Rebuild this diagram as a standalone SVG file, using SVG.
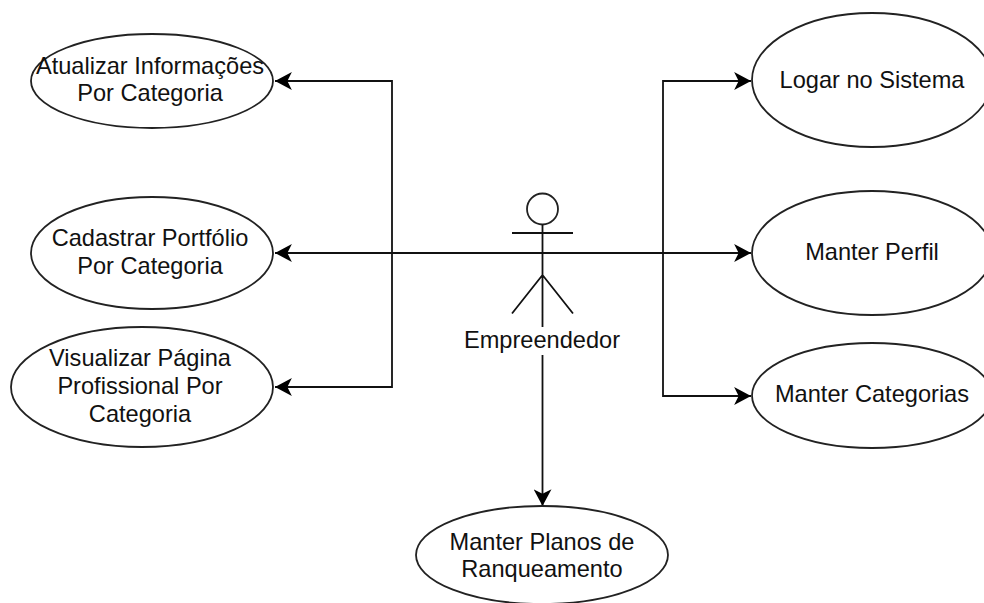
<svg xmlns="http://www.w3.org/2000/svg" width="984" height="603" viewBox="0 0 984 603">
<style>
.n{fill:#fff;stroke:#222;stroke-width:1.8}
.l{fill:none;stroke:#111;stroke-width:1.8}
text{font-family:"Liberation Sans",Arial,sans-serif;font-size:23.6px;fill:#111;text-anchor:middle}
</style>
<defs><marker id="a" markerUnits="userSpaceOnUse" markerWidth="18" markerHeight="18" refX="15" refY="8" orient="auto-start-reverse" viewBox="0 0 16 16"><path d="M0 0L15 8L0 16L4 8Z" fill="#000"/></marker></defs>
<rect width="984" height="603" fill="#fff"/>
<g id="connectors">
<path class="l" d="M392 253V81H275" marker-end="url(#a)"/>
<path class="l" d="M392 253V387H275" marker-end="url(#a)"/>
<path class="l" d="M275 253H751" marker-start="url(#a)" marker-end="url(#a)"/>
<path class="l" d="M663 253V81H751" marker-end="url(#a)"/>
<path class="l" d="M663 253V396H751" marker-end="url(#a)"/>
<path class="l" d="M542.500 355L542.500 506" marker-end="url(#a)"/>
</g>
<g id="atualizar"><ellipse class="n" cx="152" cy="81" rx="121" ry="47"/><text x="150" y="74">Atualizar Informações</text><text x="150" y="101">Por Categoria</text></g>
<g id="cadastrar"><ellipse class="n" cx="152" cy="253" rx="121" ry="56"/><text x="150" y="246">Cadastrar Portfólio</text><text x="150" y="274">Por Categoria</text></g>
<g id="visualizar"><ellipse class="n" cx="142" cy="387" rx="131" ry="60"/><text x="140" y="366">Visualizar Página</text><text x="140" y="394">Profissional Por</text><text x="140" y="422">Categoria</text></g>
<g id="logar"><ellipse class="n" cx="872" cy="80" rx="120" ry="67"/><text x="872" y="88">Logar no Sistema</text></g>
<g id="perfil"><ellipse class="n" cx="872" cy="253" rx="120" ry="62"/><text x="872" y="260">Manter Perfil</text></g>
<g id="categorias"><ellipse class="n" cx="872" cy="395.500" rx="120" ry="52.500"/><text x="872" y="402">Manter Categorias</text></g>
<g id="planos"><ellipse class="n" cx="542" cy="555" rx="126" ry="49"/><text x="542" y="550">Manter Planos de</text><text x="542" y="577">Ranqueamento</text></g>
<g id="empreendedor">
<circle class="n" cx="542.500" cy="209" r="15.500"/>
<path class="l" d="M542.500 224.500V327M512 233H573M542.500 275L512 313.500M542.500 275L573 313.500"/>
<text x="542" y="348">Empreendedor</text>
</g>
</svg>
